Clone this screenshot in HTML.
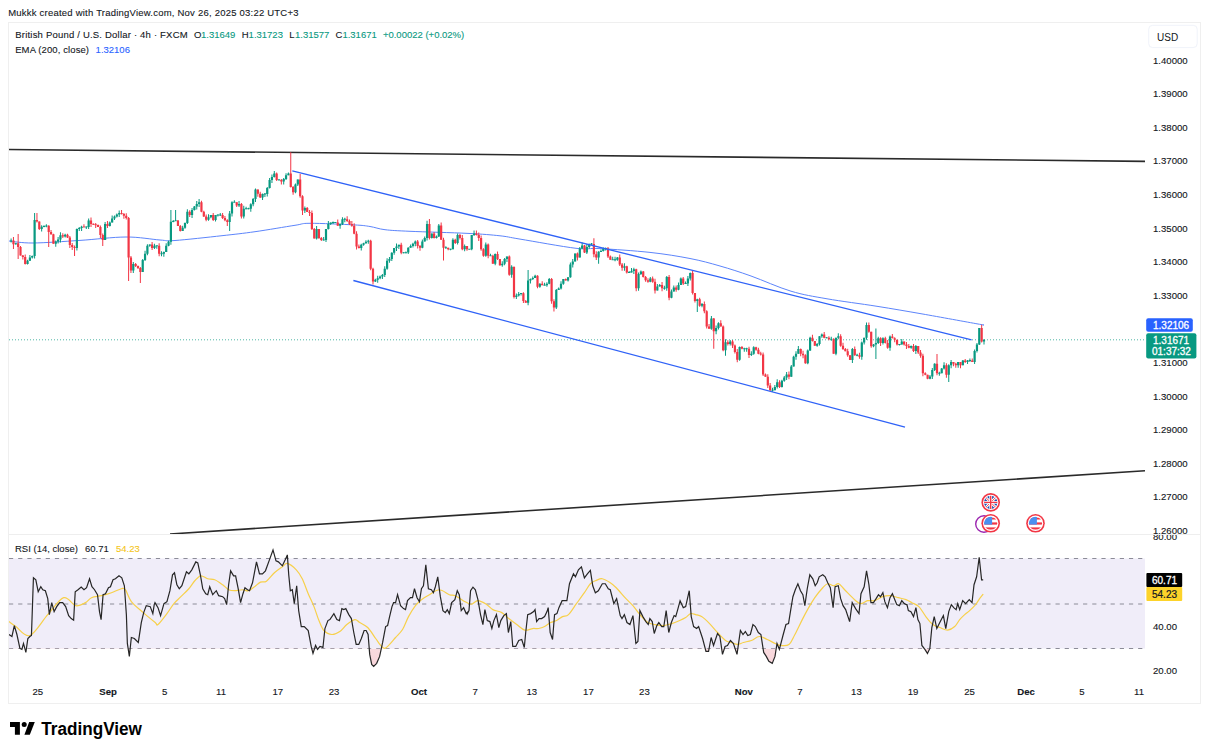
<!DOCTYPE html>
<html><head><meta charset="utf-8"><style>
html,body{margin:0;padding:0;background:#fff;width:1209px;height:754px;overflow:hidden}
svg{position:absolute;left:0;top:0}
text{font-family:"Liberation Sans",sans-serif;}
</style></head><body>
<svg width="1209" height="754" viewBox="0 0 1209 754">
<defs>
<clipPath id="cp1"><rect x="9" y="23" width="1136" height="511"/></clipPath>
<clipPath id="cp2"><rect x="9" y="535" width="1136" height="145"/></clipPath>
<clipPath id="cpos"><rect x="9" y="648.4" width="1136" height="40"/></clipPath>
<linearGradient id="pg" x1="0" y1="0" x2="0" y2="1"><stop offset="0" stop-color="#fdf4f6"/><stop offset="1" stop-color="#f8d5da"/></linearGradient>
<clipPath id="cpax2"><rect x="1145" y="535" width="55" height="145"/></clipPath>
</defs>
<rect x="0" y="0" width="1209" height="754" fill="#fff"/>
<text x="8.2" y="15.8" font-size="9.5" letter-spacing="0.22" fill="#131722" stroke="#131722" stroke-width="0.1">Mukkk created with TradingView.com, Nov 26, 2025 03:22 UTC+3</text>
<rect x="8.5" y="22.5" width="1192" height="681" fill="none" stroke="#efefef" stroke-width="1"/>
<line x1="9" y1="534.5" x2="1200" y2="534.5" stroke="#eeeeee" stroke-width="1"/>
<g clip-path="url(#cp1)">
<line x1="8" y1="149.5" x2="1145.5" y2="161.4" stroke="#2a2a2a" stroke-width="1.6"/>
<line x1="170" y1="534" x2="1145" y2="470.7" stroke="#2a2a2a" stroke-width="1.6"/>
<line x1="9" y1="339.8" x2="1145" y2="339.8" stroke="#089981" stroke-width="1" stroke-dasharray="1 2" opacity="0.7"/>
<path d="M9.00 241.00 C13.00 241.33 21.17 243.10 33.00 243.00 C44.83 242.90 64.50 241.40 80.00 240.40 C95.50 239.40 112.67 237.07 126.00 237.00 C139.33 236.93 151.83 239.42 160.00 240.00 C168.17 240.58 164.67 241.22 175.00 240.50 C185.33 239.78 208.67 237.17 222.00 235.70 C235.33 234.23 242.83 233.43 255.00 231.70 C267.17 229.97 285.83 226.70 295.00 225.30 C304.17 223.90 300.17 223.37 310.00 223.30 C319.83 223.23 344.00 224.37 354.00 224.90 C364.00 225.43 364.83 225.70 370.00 226.50 C375.17 227.30 378.33 228.90 385.00 229.70 C391.67 230.50 396.17 230.68 410.00 231.30 C423.83 231.92 453.00 232.65 468.00 233.40 C483.00 234.15 491.33 234.85 500.00 235.80 C508.67 236.75 507.33 237.02 520.00 239.10 C532.67 241.18 562.67 246.72 576.00 248.30 C589.33 249.88 587.67 247.92 600.00 248.60 C612.33 249.28 635.00 250.75 650.00 252.40 C665.00 254.05 678.33 256.23 690.00 258.50 C701.67 260.77 709.83 263.08 720.00 266.00 C730.17 268.92 739.17 271.80 751.00 276.00 C762.83 280.20 778.33 287.40 791.00 291.20 C803.67 295.00 812.67 296.28 827.00 298.80 C841.33 301.32 861.17 303.78 877.00 306.30 C892.83 308.82 905.17 310.95 922.00 313.90 C938.83 316.85 967.83 322.18 978.00 324.00 C988.17 325.82 982.17 324.67 983.00 324.80" fill="none" stroke="#5d85fb" stroke-width="1"/>
<path d="M10.60 238.60h1v4.00h-1zM15.30 242.66h1v2.14h-1zM27.05 259.80h1v4.70h-1zM29.40 255.10h1v5.70h-1zM31.75 255.50h1v3.10h-1zM34.10 213.00h1v45.50h-1zM41.15 225.30h1v6.20h-1zM43.50 225.30h1v2.00h-1zM45.85 224.30h1v3.00h-1zM55.25 240.54h1v6.26h-1zM57.60 237.10h1v6.44h-1zM59.95 232.30h1v10.30h-1zM64.65 233.80h1v3.60h-1zM76.40 228.50h1v22.00h-1zM78.75 226.90h1v4.10h-1zM81.10 225.80h1v5.10h-1zM85.80 226.50h1v2.50h-1zM88.15 218.50h1v10.50h-1zM104.60 222.00h1v18.00h-1zM109.30 221.50h1v5.00h-1zM111.65 215.50h1v7.00h-1zM114.00 215.50h1v4.50h-1zM116.35 213.44h1v4.06h-1zM118.70 210.50h1v6.44h-1zM132.80 262.00h1v10.94h-1zM142.20 259.00h1v13.00h-1zM144.55 250.70h1v10.30h-1zM146.90 244.20h1v11.00h-1zM149.25 244.40h1v2.30h-1zM153.95 243.70h1v5.30h-1zM156.30 245.70h1v3.00h-1zM161.00 251.20h1v5.00h-1zM163.35 251.50h1v5.20h-1zM165.70 243.20h1v8.80h-1zM168.05 240.70h1v5.50h-1zM170.40 210.00h1v34.70h-1zM172.75 220.11h1v2.19h-1zM175.10 210.00h1v11.11h-1zM182.15 225.80h1v5.20h-1zM184.50 222.50h1v6.30h-1zM186.85 209.30h1v14.70h-1zM191.55 208.00h1v10.00h-1zM193.90 205.94h1v4.56h-1zM196.25 201.00h1v8.44h-1zM198.60 199.00h1v8.00h-1zM208.00 214.25h1v6.55h-1zM210.35 215.00h1v3.25h-1zM215.05 215.00h1v6.50h-1zM217.40 214.50h1v2.00h-1zM219.75 213.00h1v3.00h-1zM229.15 210.90h1v20.10h-1zM231.50 201.30h1v15.10h-1zM233.85 200.30h1v2.00h-1zM238.55 201.00h1v6.00h-1zM243.25 205.70h1v12.90h-1zM245.60 206.70h1v2.50h-1zM247.95 207.70h1v1.50h-1zM250.30 203.34h1v8.36h-1zM252.65 198.00h1v8.34h-1zM255.00 188.60h1v13.40h-1zM262.05 193.50h1v6.50h-1zM264.40 193.00h1v4.00h-1zM266.75 187.00h1v9.50h-1zM269.10 178.00h1v10.50h-1zM271.45 174.60h1v8.40h-1zM273.80 171.10h1v6.50h-1zM278.50 179.00h1v1.00h-1zM283.20 178.00h1v6.60h-1zM285.55 173.20h1v6.80h-1zM287.90 172.60h1v2.60h-1zM294.95 183.59h1v9.71h-1zM297.30 179.50h1v6.59h-1zM304.35 206.50h1v6.60h-1zM316.10 226.00h1v13.40h-1zM323.15 237.00h1v3.50h-1zM325.50 229.00h1v13.00h-1zM327.85 221.00h1v8.50h-1zM330.20 222.50h1v2.50h-1zM332.55 221.50h1v2.50h-1zM334.90 222.50h1v0.50h-1zM339.60 223.50h1v5.20h-1zM341.95 217.30h1v7.70h-1zM344.30 217.80h1v4.50h-1zM360.75 243.80h1v6.70h-1zM363.10 242.70h1v3.10h-1zM365.45 240.24h1v3.46h-1zM367.80 239.80h1v3.94h-1zM374.85 278.80h1v3.10h-1zM377.20 275.70h1v7.10h-1zM379.55 275.45h1v3.75h-1zM381.90 274.00h1v4.95h-1zM384.25 266.20h1v10.80h-1zM386.60 258.20h1v11.50h-1zM388.95 257.00h1v5.70h-1zM391.30 252.30h1v8.70h-1zM393.65 248.00h1v6.80h-1zM396.00 243.50h1v7.50h-1zM398.35 244.80h1v4.20h-1zM403.05 252.30h1v1.00h-1zM405.40 251.50h1v1.80h-1zM407.75 247.20h1v6.80h-1zM410.10 244.50h1v3.20h-1zM412.45 242.70h1v4.80h-1zM414.80 240.40h1v5.80h-1zM421.85 239.40h1v8.80h-1zM424.20 236.50h1v4.90h-1zM426.55 220.70h1v19.80h-1zM431.25 233.40h1v5.10h-1zM435.95 235.60h1v2.90h-1zM438.30 224.00h1v13.10h-1zM445.35 246.20h1v2.50h-1zM450.05 248.80h1v1.50h-1zM452.40 238.30h1v11.00h-1zM457.10 233.50h1v11.00h-1zM464.15 244.50h1v6.80h-1zM468.85 249.30h1v0.00h-1zM471.20 235.00h1v15.30h-1zM473.55 230.40h1v5.60h-1zM485.30 242.60h1v14.10h-1zM490.00 253.70h1v2.00h-1zM494.70 253.50h1v11.70h-1zM501.75 261.20h1v5.60h-1zM504.10 257.90h1v7.30h-1zM506.45 256.50h1v5.40h-1zM511.15 265.30h1v12.50h-1zM515.85 293.50h1v5.50h-1zM518.20 292.00h1v4.50h-1zM520.55 293.20h1v2.30h-1zM527.60 270.00h1v35.30h-1zM529.95 278.50h1v5.00h-1zM532.30 276.50h1v3.50h-1zM534.65 274.70h1v3.30h-1zM539.35 283.20h1v4.60h-1zM544.05 282.80h1v2.50h-1zM546.40 282.20h1v4.60h-1zM548.75 277.90h1v6.30h-1zM555.80 289.00h1v20.00h-1zM558.15 287.40h1v2.60h-1zM560.50 281.20h1v8.20h-1zM562.85 278.90h1v5.80h-1zM567.55 277.30h1v4.20h-1zM569.90 262.60h1v15.20h-1zM572.25 258.90h1v8.70h-1zM574.60 253.40h1v8.00h-1zM579.30 247.10h1v10.30h-1zM581.65 242.50h1v6.60h-1zM586.35 244.00h1v10.10h-1zM588.70 243.40h1v5.10h-1zM591.05 242.90h1v2.00h-1zM598.10 251.30h1v12.50h-1zM600.45 249.50h1v2.30h-1zM602.80 247.60h1v3.90h-1zM605.15 247.60h1v3.00h-1zM612.20 256.80h1v3.00h-1zM614.55 256.80h1v4.50h-1zM616.90 256.90h1v3.90h-1zM623.95 263.20h1v7.50h-1zM628.65 271.00h1v2.00h-1zM631.00 268.00h1v4.50h-1zM633.35 267.80h1v6.20h-1zM638.05 272.40h1v18.30h-1zM640.40 270.50h1v4.40h-1zM649.80 277.10h1v5.20h-1zM656.85 284.10h1v6.50h-1zM659.20 284.00h1v2.60h-1zM663.90 285.70h1v4.00h-1zM666.25 276.00h1v14.70h-1zM670.95 289.40h1v8.80h-1zM673.30 285.40h1v6.00h-1zM678.00 282.50h1v7.80h-1zM680.35 277.60h1v7.40h-1zM685.05 281.40h1v2.50h-1zM687.40 276.10h1v9.80h-1zM689.75 272.50h1v8.10h-1zM696.80 298.80h1v13.20h-1zM701.50 303.10h1v4.10h-1zM710.90 315.90h1v13.90h-1zM715.60 325.50h1v8.70h-1zM717.95 322.20h1v7.30h-1zM725.00 339.30h1v16.50h-1zM729.70 340.00h1v5.40h-1zM739.10 346.60h1v14.20h-1zM743.80 347.70h1v4.00h-1zM746.15 347.70h1v4.00h-1zM750.85 351.20h1v4.80h-1zM753.20 346.30h1v8.40h-1zM772.00 387.80h1v4.00h-1zM774.35 385.10h1v5.20h-1zM776.70 379.30h1v9.30h-1zM781.40 379.70h1v7.90h-1zM783.75 376.00h1v5.70h-1zM786.10 371.90h1v8.10h-1zM790.80 364.90h1v11.80h-1zM793.15 355.80h1v10.60h-1zM795.50 351.20h1v8.60h-1zM797.85 345.90h1v7.80h-1zM807.25 349.50h1v14.70h-1zM809.60 336.70h1v14.30h-1zM816.65 343.10h1v3.60h-1zM819.00 336.20h1v9.40h-1zM821.35 333.60h1v4.10h-1zM826.05 337.20h1v1.00h-1zM830.75 336.80h1v4.00h-1zM835.45 337.70h1v17.50h-1zM837.80 333.20h1v6.00h-1zM851.90 347.90h1v15.10h-1zM856.60 353.80h1v2.50h-1zM861.30 341.50h1v18.30h-1zM863.65 337.70h1v6.80h-1zM866.00 322.50h1v17.20h-1zM873.05 344.10h1v3.10h-1zM875.40 328.60h1v30.30h-1zM877.75 336.70h1v7.30h-1zM882.45 337.20h1v7.30h-1zM889.50 335.60h1v15.10h-1zM898.90 344.60h1v1.00h-1zM901.25 338.90h1v5.70h-1zM910.65 345.50h1v3.20h-1zM915.35 345.00h1v8.90h-1zM929.45 374.90h1v4.40h-1zM931.80 368.00h1v10.90h-1zM934.15 363.20h1v7.80h-1zM938.85 371.70h1v4.00h-1zM941.20 367.90h1v5.30h-1zM943.55 362.30h1v7.10h-1zM948.25 364.30h1v17.70h-1zM950.60 360.10h1v8.20h-1zM957.65 362.10h1v5.70h-1zM962.35 360.00h1v5.30h-1zM967.05 360.00h1v4.10h-1zM969.40 358.50h1v3.50h-1zM974.10 349.40h1v14.70h-1zM976.45 343.10h1v9.30h-1zM978.80 327.90h1v17.20h-1zM983.50 339.30h1v5.10h-1z" fill="#089981"/>
<path d="M12.95 237.00h1v12.00h-1zM17.65 234.00h1v25.00h-1zM20.00 246.00h1v9.50h-1zM22.35 255.00h1v4.50h-1zM24.70 254.50h1v10.00h-1zM36.45 213.00h1v9.50h-1zM38.80 221.50h1v8.50h-1zM48.20 225.30h1v21.70h-1zM50.55 230.10h1v4.70h-1zM52.90 233.80h1v10.00h-1zM62.30 233.30h1v4.60h-1zM67.00 233.80h1v4.10h-1zM69.35 235.90h1v12.00h-1zM71.70 242.90h1v7.10h-1zM74.05 245.50h1v10.50h-1zM83.45 224.30h1v2.70h-1zM90.50 217.50h1v9.50h-1zM92.85 223.50h1v1.45h-1zM95.20 222.95h1v5.05h-1zM97.55 224.50h1v2.50h-1zM99.90 225.50h1v12.50h-1zM102.25 233.50h1v12.50h-1zM106.95 221.00h1v7.00h-1zM121.05 210.00h1v4.50h-1zM123.40 213.00h1v5.76h-1zM125.75 213.26h1v6.24h-1zM128.10 217.00h1v64.00h-1zM130.45 256.10h1v16.84h-1zM135.15 263.00h1v3.92h-1zM137.50 265.42h1v3.58h-1zM139.85 267.00h1v16.00h-1zM151.60 241.90h1v8.10h-1zM158.65 243.20h1v13.00h-1zM177.45 220.00h1v6.00h-1zM179.80 225.00h1v6.50h-1zM189.20 210.30h1v6.70h-1zM200.95 200.80h1v11.50h-1zM203.30 210.80h1v6.30h-1zM205.65 214.60h1v6.70h-1zM212.70 213.00h1v8.00h-1zM222.10 213.00h1v6.00h-1zM224.45 216.00h1v5.25h-1zM226.80 219.25h1v6.75h-1zM236.20 202.30h1v4.70h-1zM240.90 203.00h1v15.60h-1zM257.35 189.60h1v7.07h-1zM259.70 191.67h1v6.33h-1zM276.15 172.60h1v8.40h-1zM280.85 179.00h1v5.60h-1zM290.25 152.20h1v35.30h-1zM292.60 186.00h1v8.80h-1zM299.65 174.00h1v23.80h-1zM302.00 195.30h1v19.70h-1zM306.70 207.00h1v5.00h-1zM309.05 210.00h1v6.00h-1zM311.40 210.50h1v19.50h-1zM313.75 228.00h1v10.40h-1zM318.45 229.00h1v10.00h-1zM320.80 237.00h1v4.00h-1zM337.25 219.50h1v6.20h-1zM346.65 216.30h1v5.70h-1zM349.00 219.50h1v5.50h-1zM351.35 221.00h1v5.70h-1zM353.70 223.20h1v11.00h-1zM356.05 231.20h1v18.20h-1zM358.40 244.40h1v4.10h-1zM370.15 239.80h1v30.40h-1zM372.50 267.70h1v16.70h-1zM400.70 242.80h1v11.50h-1zM417.15 239.90h1v8.60h-1zM419.50 245.00h1v5.70h-1zM428.90 219.00h1v20.50h-1zM433.60 231.90h1v6.60h-1zM440.65 222.50h1v17.30h-1zM443.00 237.80h1v22.70h-1zM447.70 247.70h1v2.60h-1zM454.75 238.80h1v5.20h-1zM459.45 234.00h1v5.50h-1zM461.80 235.00h1v15.30h-1zM466.50 246.00h1v4.80h-1zM475.90 230.40h1v5.10h-1zM478.25 232.50h1v8.50h-1zM480.60 235.50h1v15.30h-1zM482.95 248.30h1v8.40h-1zM487.65 243.60h1v14.60h-1zM492.35 254.70h1v9.00h-1zM497.05 251.50h1v8.40h-1zM499.40 258.90h1v6.90h-1zM508.80 255.50h1v20.30h-1zM513.50 266.80h1v31.70h-1zM522.90 292.20h1v10.80h-1zM525.25 300.00h1v2.80h-1zM537.00 275.20h1v13.10h-1zM541.70 281.20h1v4.10h-1zM551.10 277.90h1v25.80h-1zM553.45 299.20h1v12.30h-1zM565.20 278.40h1v2.10h-1zM576.95 252.40h1v8.00h-1zM584.00 245.00h1v8.10h-1zM593.40 238.30h1v18.90h-1zM595.75 251.20h1v8.70h-1zM607.50 247.10h1v11.00h-1zM609.85 255.60h1v4.20h-1zM619.25 254.40h1v11.70h-1zM621.60 263.10h1v7.60h-1zM626.30 265.70h1v7.80h-1zM635.70 268.80h1v22.40h-1zM642.75 271.00h1v6.50h-1zM645.10 276.00h1v5.70h-1zM647.45 278.20h1v4.60h-1zM652.15 276.60h1v6.20h-1zM654.50 278.80h1v14.80h-1zM661.55 282.00h1v9.20h-1zM668.60 275.00h1v25.20h-1zM675.65 285.40h1v6.40h-1zM682.70 277.10h1v7.80h-1zM692.10 270.50h1v24.00h-1zM694.45 293.00h1v9.50h-1zM699.15 297.80h1v8.90h-1zM703.85 301.60h1v11.70h-1zM706.20 310.30h1v18.10h-1zM708.55 323.90h1v4.90h-1zM713.25 317.90h1v30.80h-1zM720.30 320.20h1v6.20h-1zM722.65 325.40h1v25.90h-1zM727.35 340.30h1v5.10h-1zM732.05 340.00h1v8.00h-1zM734.40 344.50h1v8.90h-1zM736.75 348.90h1v13.40h-1zM741.45 346.10h1v3.10h-1zM748.50 346.70h1v11.30h-1zM755.55 346.80h1v3.90h-1zM757.90 347.70h1v6.50h-1zM760.25 351.70h1v3.80h-1zM762.60 352.50h1v23.40h-1zM764.95 373.40h1v3.30h-1zM767.30 374.20h1v13.80h-1zM769.65 383.00h1v8.30h-1zM779.05 380.30h1v7.80h-1zM788.45 371.40h1v7.80h-1zM800.20 348.40h1v7.80h-1zM802.55 350.70h1v7.60h-1zM804.90 354.30h1v9.40h-1zM811.95 334.70h1v6.80h-1zM814.30 341.00h1v4.70h-1zM823.70 332.10h1v6.10h-1zM828.40 336.20h1v4.10h-1zM833.10 338.30h1v15.40h-1zM840.15 334.20h1v12.50h-1zM842.50 342.70h1v7.20h-1zM844.85 347.90h1v3.40h-1zM847.20 348.80h1v8.00h-1zM849.55 355.30h1v4.70h-1zM854.25 346.40h1v9.40h-1zM858.95 352.80h1v6.00h-1zM868.35 322.50h1v10.30h-1zM870.70 331.80h1v15.90h-1zM880.10 337.20h1v8.80h-1zM884.80 336.70h1v6.80h-1zM887.15 340.00h1v8.70h-1zM891.85 334.10h1v4.10h-1zM894.20 337.20h1v5.10h-1zM896.55 339.80h1v5.80h-1zM903.60 341.40h1v4.20h-1zM905.95 342.10h1v6.90h-1zM908.30 344.00h1v4.20h-1zM913.00 344.00h1v7.90h-1zM917.70 346.00h1v8.00h-1zM920.05 350.00h1v7.70h-1zM922.40 353.70h1v22.50h-1zM924.75 372.20h1v3.10h-1zM927.10 374.80h1v4.50h-1zM936.50 354.00h1v21.20h-1zM945.90 363.30h1v14.50h-1zM952.95 362.10h1v4.10h-1zM955.30 362.70h1v5.10h-1zM960.00 362.10h1v6.20h-1zM964.70 359.00h1v4.10h-1zM971.75 358.50h1v3.60h-1zM981.15 324.70h1v17.70h-1z" fill="#f23645"/>
<path d="M10.00 240.60h2.2v1.00h-2.2zM14.70 243.16h2.2v1.14h-2.2zM26.45 260.80h2.2v3.20h-2.2zM28.80 257.60h2.2v3.20h-2.2zM31.15 256.00h2.2v1.60h-2.2zM33.50 220.00h2.2v36.00h-2.2zM40.55 226.80h2.2v2.20h-2.2zM42.90 226.05h2.2v1.00h-2.2zM45.25 225.55h2.2v1.00h-2.2zM54.65 241.54h2.2v2.26h-2.2zM57.00 239.60h2.2v1.94h-2.2zM59.35 235.30h2.2v4.30h-2.2zM64.05 234.80h2.2v1.60h-2.2zM75.80 229.00h2.2v19.00h-2.2zM78.15 227.90h2.2v1.10h-2.2zM80.50 226.80h2.2v1.10h-2.2zM85.20 226.50h2.2v1.00h-2.2zM87.55 220.50h2.2v6.50h-2.2zM104.00 224.00h2.2v16.00h-2.2zM108.70 222.50h2.2v3.50h-2.2zM111.05 218.50h2.2v4.00h-2.2zM113.40 216.50h2.2v2.00h-2.2zM115.75 214.44h2.2v2.06h-2.2zM118.10 213.00h2.2v1.44h-2.2zM132.20 264.00h2.2v6.44h-2.2zM141.60 260.00h2.2v12.00h-2.2zM143.95 253.70h2.2v6.30h-2.2zM146.30 245.70h2.2v8.00h-2.2zM148.65 244.40h2.2v1.30h-2.2zM153.35 245.70h2.2v2.30h-2.2zM155.70 245.20h2.2v1.00h-2.2zM160.40 253.20h2.2v1.00h-2.2zM162.75 252.00h2.2v1.70h-2.2zM165.10 245.70h2.2v6.30h-2.2zM167.45 241.70h2.2v4.00h-2.2zM169.80 221.80h2.2v19.90h-2.2zM172.15 220.96h2.2v1.00h-2.2zM174.50 220.31h2.2v1.00h-2.2zM181.55 227.80h2.2v3.20h-2.2zM183.90 223.00h2.2v4.80h-2.2zM186.25 211.80h2.2v11.20h-2.2zM190.95 210.00h2.2v5.00h-2.2zM193.30 206.44h2.2v3.56h-2.2zM195.65 204.00h2.2v2.44h-2.2zM198.00 202.30h2.2v1.70h-2.2zM207.40 217.25h2.2v2.55h-2.2zM209.75 215.00h2.2v2.25h-2.2zM214.45 215.00h2.2v5.00h-2.2zM216.80 214.50h2.2v1.00h-2.2zM219.15 214.50h2.2v1.00h-2.2zM228.55 213.40h2.2v8.60h-2.2zM230.90 202.30h2.2v11.10h-2.2zM233.25 201.80h2.2v1.00h-2.2zM237.95 204.00h2.2v1.50h-2.2zM242.65 208.70h2.2v7.90h-2.2zM245.00 208.20h2.2v1.00h-2.2zM247.35 208.20h2.2v1.00h-2.2zM249.70 204.34h2.2v4.36h-2.2zM252.05 199.00h2.2v5.34h-2.2zM254.40 189.60h2.2v9.40h-2.2zM261.45 194.00h2.2v3.50h-2.2zM263.80 193.50h2.2v1.00h-2.2zM266.15 188.00h2.2v6.00h-2.2zM268.50 180.00h2.2v8.00h-2.2zM270.85 177.10h2.2v2.90h-2.2zM273.20 173.60h2.2v3.50h-2.2zM277.90 179.50h2.2v1.00h-2.2zM282.60 179.00h2.2v2.60h-2.2zM284.95 175.20h2.2v3.80h-2.2zM287.30 173.60h2.2v1.60h-2.2zM294.35 184.59h2.2v7.71h-2.2zM296.70 179.50h2.2v5.09h-2.2zM303.75 208.00h2.2v2.60h-2.2zM315.50 229.00h2.2v9.40h-2.2zM322.55 239.50h2.2v1.00h-2.2zM324.90 229.00h2.2v11.00h-2.2zM327.25 224.00h2.2v5.00h-2.2zM329.60 222.50h2.2v1.50h-2.2zM331.95 222.00h2.2v1.00h-2.2zM334.30 222.00h2.2v1.00h-2.2zM339.00 224.00h2.2v1.70h-2.2zM341.35 219.30h2.2v4.70h-2.2zM343.70 218.80h2.2v1.00h-2.2zM360.15 244.80h2.2v3.20h-2.2zM362.50 243.20h2.2v1.60h-2.2zM364.85 241.74h2.2v1.46h-2.2zM367.20 240.77h2.2v1.00h-2.2zM374.25 279.80h2.2v1.60h-2.2zM376.60 278.20h2.2v1.60h-2.2zM378.95 276.45h2.2v1.75h-2.2zM381.30 275.00h2.2v1.45h-2.2zM383.65 268.70h2.2v6.30h-2.2zM386.00 260.70h2.2v8.00h-2.2zM388.35 259.00h2.2v1.70h-2.2zM390.70 252.80h2.2v6.20h-2.2zM393.05 248.00h2.2v4.80h-2.2zM395.40 246.50h2.2v1.50h-2.2zM397.75 244.80h2.2v1.70h-2.2zM402.45 252.30h2.2v1.00h-2.2zM404.80 252.15h2.2v1.00h-2.2zM407.15 247.70h2.2v4.80h-2.2zM409.50 246.00h2.2v1.70h-2.2zM411.85 243.70h2.2v2.30h-2.2zM414.20 241.40h2.2v2.30h-2.2zM421.25 241.40h2.2v6.30h-2.2zM423.60 238.00h2.2v3.40h-2.2zM425.95 223.90h2.2v14.10h-2.2zM430.65 233.40h2.2v4.60h-2.2zM435.35 236.60h2.2v1.40h-2.2zM437.70 225.50h2.2v11.10h-2.2zM444.75 247.20h2.2v1.00h-2.2zM449.45 248.80h2.2v1.00h-2.2zM451.80 239.80h2.2v9.50h-2.2zM456.50 235.00h2.2v8.00h-2.2zM463.55 246.00h2.2v3.30h-2.2zM468.25 248.80h2.2v1.00h-2.2zM470.60 235.00h2.2v14.30h-2.2zM472.95 233.40h2.2v1.60h-2.2zM484.70 244.60h2.2v11.10h-2.2zM489.40 255.20h2.2v1.00h-2.2zM494.10 254.00h2.2v9.70h-2.2zM501.15 263.70h2.2v1.60h-2.2zM503.50 258.90h2.2v4.80h-2.2zM505.85 256.50h2.2v2.40h-2.2zM510.55 266.80h2.2v8.00h-2.2zM515.25 295.50h2.2v1.50h-2.2zM517.60 294.00h2.2v1.50h-2.2zM519.95 293.10h2.2v1.00h-2.2zM527.00 280.50h2.2v22.30h-2.2zM529.35 279.00h2.2v1.50h-2.2zM531.70 278.00h2.2v1.00h-2.2zM534.05 275.70h2.2v2.30h-2.2zM538.75 283.70h2.2v3.10h-2.2zM543.45 284.80h2.2v1.00h-2.2zM545.80 283.70h2.2v1.60h-2.2zM548.15 278.90h2.2v4.80h-2.2zM555.20 290.00h2.2v17.50h-2.2zM557.55 288.40h2.2v1.60h-2.2zM559.90 283.70h2.2v4.70h-2.2zM562.25 278.90h2.2v4.80h-2.2zM566.95 277.30h2.2v3.20h-2.2zM569.30 264.60h2.2v12.70h-2.2zM571.65 261.40h2.2v3.20h-2.2zM574.00 253.40h2.2v8.00h-2.2zM578.70 248.60h2.2v8.80h-2.2zM581.05 245.50h2.2v3.10h-2.2zM585.75 247.00h2.2v5.60h-2.2zM588.10 243.90h2.2v3.10h-2.2zM590.45 243.40h2.2v1.00h-2.2zM597.50 251.80h2.2v5.60h-2.2zM599.85 250.90h2.2v1.00h-2.2zM602.20 248.60h2.2v2.40h-2.2zM604.55 248.10h2.2v1.00h-2.2zM611.60 259.30h2.2v1.00h-2.2zM613.95 259.30h2.2v1.00h-2.2zM616.30 257.40h2.2v2.40h-2.2zM623.35 266.20h2.2v1.50h-2.2zM628.05 272.00h2.2v1.00h-2.2zM630.40 271.00h2.2v1.50h-2.2zM632.75 269.30h2.2v1.70h-2.2zM637.45 273.90h2.2v14.30h-2.2zM639.80 271.50h2.2v2.40h-2.2zM649.20 278.60h2.2v3.20h-2.2zM656.25 286.60h2.2v4.00h-2.2zM658.60 285.00h2.2v1.60h-2.2zM663.30 287.70h2.2v1.00h-2.2zM665.65 277.00h2.2v11.20h-2.2zM670.35 291.40h2.2v6.30h-2.2zM672.70 287.40h2.2v4.00h-2.2zM677.40 285.00h2.2v4.80h-2.2zM679.75 278.60h2.2v6.40h-2.2zM684.45 282.90h2.2v1.00h-2.2zM686.80 278.60h2.2v4.80h-2.2zM689.15 273.00h2.2v5.60h-2.2zM696.20 299.30h2.2v1.70h-2.2zM700.90 304.10h2.2v1.60h-2.2zM710.30 318.40h2.2v10.40h-2.2zM715.00 328.00h2.2v3.20h-2.2zM717.35 323.20h2.2v4.80h-2.2zM724.40 342.30h2.2v8.00h-2.2zM729.10 341.50h2.2v2.40h-2.2zM738.50 347.10h2.2v12.70h-2.2zM743.20 348.20h2.2v1.00h-2.2zM745.55 348.20h2.2v1.00h-2.2zM750.25 353.70h2.2v1.30h-2.2zM752.60 347.30h2.2v6.40h-2.2zM771.40 389.80h2.2v1.00h-2.2zM773.75 387.10h2.2v3.20h-2.2zM776.10 382.30h2.2v4.80h-2.2zM780.80 380.70h2.2v6.40h-2.2zM783.15 377.50h2.2v3.20h-2.2zM785.50 374.40h2.2v3.10h-2.2zM790.20 366.40h2.2v10.30h-2.2zM792.55 356.80h2.2v9.60h-2.2zM794.90 353.70h2.2v3.10h-2.2zM797.25 348.90h2.2v4.80h-2.2zM806.65 350.50h2.2v12.70h-2.2zM809.00 337.70h2.2v12.80h-2.2zM816.05 344.10h2.2v1.60h-2.2zM818.40 336.20h2.2v7.90h-2.2zM820.75 334.60h2.2v1.60h-2.2zM825.45 337.20h2.2v1.00h-2.2zM830.15 338.80h2.2v1.00h-2.2zM834.85 337.70h2.2v16.00h-2.2zM837.20 336.20h2.2v1.50h-2.2zM851.30 348.90h2.2v11.10h-2.2zM856.00 354.80h2.2v1.00h-2.2zM860.70 342.50h2.2v14.30h-2.2zM863.05 337.70h2.2v4.80h-2.2zM865.40 325.00h2.2v12.70h-2.2zM872.45 344.60h2.2v1.60h-2.2zM874.80 343.00h2.2v1.60h-2.2zM877.15 338.20h2.2v4.80h-2.2zM881.85 338.20h2.2v4.80h-2.2zM888.90 336.60h2.2v11.10h-2.2zM898.30 344.10h2.2v1.00h-2.2zM900.65 341.40h2.2v3.20h-2.2zM910.05 346.00h2.2v1.70h-2.2zM914.75 346.00h2.2v4.90h-2.2zM928.85 376.40h2.2v2.40h-2.2zM931.20 370.00h2.2v6.40h-2.2zM933.55 363.70h2.2v6.30h-2.2zM938.25 372.70h2.2v1.00h-2.2zM940.60 368.40h2.2v4.80h-2.2zM942.95 365.30h2.2v3.10h-2.2zM947.65 365.30h2.2v9.50h-2.2zM950.00 362.10h2.2v3.20h-2.2zM957.05 362.10h2.2v3.20h-2.2zM961.75 360.50h2.2v4.80h-2.2zM966.45 360.50h2.2v1.60h-2.2zM968.80 360.00h2.2v1.00h-2.2zM973.50 350.90h2.2v11.20h-2.2zM975.85 344.60h2.2v6.30h-2.2zM978.20 327.90h2.2v16.70h-2.2zM982.90 339.80h2.2v1.60h-2.2z" fill="#089981"/>
<path d="M12.35 240.60h2.2v3.70h-2.2zM17.05 243.16h2.2v3.84h-2.2zM19.40 247.00h2.2v8.50h-2.2zM21.75 255.50h2.2v1.50h-2.2zM24.10 257.00h2.2v7.00h-2.2zM35.85 220.00h2.2v1.50h-2.2zM38.20 221.50h2.2v7.50h-2.2zM47.60 225.80h2.2v6.30h-2.2zM49.95 232.10h2.2v2.20h-2.2zM52.30 234.30h2.2v9.50h-2.2zM61.70 235.30h2.2v1.10h-2.2zM66.40 234.80h2.2v2.60h-2.2zM68.75 237.40h2.2v7.50h-2.2zM71.10 244.90h2.2v2.10h-2.2zM73.45 247.00h2.2v1.00h-2.2zM82.85 226.40h2.2v1.00h-2.2zM89.90 220.50h2.2v3.50h-2.2zM92.25 223.73h2.2v1.00h-2.2zM94.60 224.23h2.2v1.00h-2.2zM96.95 225.00h2.2v2.00h-2.2zM99.30 227.00h2.2v8.00h-2.2zM101.65 235.00h2.2v5.00h-2.2zM106.35 224.00h2.2v2.00h-2.2zM120.45 213.00h2.2v1.00h-2.2zM122.80 214.00h2.2v1.76h-2.2zM125.15 215.76h2.2v2.24h-2.2zM127.50 218.00h2.2v39.60h-2.2zM129.85 257.60h2.2v12.84h-2.2zM134.55 264.00h2.2v1.92h-2.2zM136.90 265.92h2.2v2.08h-2.2zM139.25 268.00h2.2v4.00h-2.2zM151.00 244.40h2.2v3.60h-2.2zM158.05 245.70h2.2v8.00h-2.2zM176.85 220.50h2.2v5.50h-2.2zM179.20 226.00h2.2v5.00h-2.2zM188.60 211.80h2.2v3.20h-2.2zM200.35 202.30h2.2v9.50h-2.2zM202.70 211.80h2.2v4.80h-2.2zM205.05 216.60h2.2v3.20h-2.2zM212.10 215.00h2.2v5.00h-2.2zM221.50 215.00h2.2v3.00h-2.2zM223.85 218.00h2.2v2.25h-2.2zM226.20 220.25h2.2v1.75h-2.2zM235.60 202.30h2.2v3.20h-2.2zM240.30 204.00h2.2v12.60h-2.2zM256.75 189.60h2.2v4.07h-2.2zM259.10 193.67h2.2v3.83h-2.2zM275.55 173.60h2.2v6.40h-2.2zM280.25 180.00h2.2v1.60h-2.2zM289.65 173.60h2.2v13.40h-2.2zM292.00 187.00h2.2v5.30h-2.2zM299.05 179.50h2.2v16.80h-2.2zM301.40 196.30h2.2v14.30h-2.2zM306.10 208.00h2.2v4.00h-2.2zM308.45 212.00h2.2v1.00h-2.2zM310.80 213.00h2.2v16.00h-2.2zM313.15 229.00h2.2v9.40h-2.2zM317.85 229.00h2.2v9.00h-2.2zM320.20 238.00h2.2v2.00h-2.2zM336.65 222.50h2.2v3.20h-2.2zM346.05 219.30h2.2v1.70h-2.2zM348.40 221.00h2.2v3.00h-2.2zM350.75 224.00h2.2v1.70h-2.2zM353.10 225.70h2.2v8.00h-2.2zM355.45 233.70h2.2v12.70h-2.2zM357.80 246.40h2.2v1.60h-2.2zM369.55 240.80h2.2v27.90h-2.2zM371.90 268.70h2.2v12.70h-2.2zM400.10 244.80h2.2v8.00h-2.2zM416.55 241.40h2.2v4.60h-2.2zM418.90 246.00h2.2v1.70h-2.2zM428.30 223.90h2.2v14.10h-2.2zM433.00 233.40h2.2v4.60h-2.2zM440.05 225.50h2.2v14.30h-2.2zM442.40 239.80h2.2v7.90h-2.2zM447.10 247.70h2.2v1.60h-2.2zM454.15 239.80h2.2v3.20h-2.2zM458.85 235.00h2.2v3.00h-2.2zM461.20 238.00h2.2v11.30h-2.2zM465.90 246.00h2.2v3.30h-2.2zM475.30 233.40h2.2v1.60h-2.2zM477.65 235.00h2.2v3.00h-2.2zM480.00 238.00h2.2v11.30h-2.2zM482.35 249.30h2.2v6.40h-2.2zM487.05 244.60h2.2v11.10h-2.2zM491.75 255.70h2.2v8.00h-2.2zM496.45 254.00h2.2v4.90h-2.2zM498.80 258.90h2.2v6.40h-2.2zM508.20 256.50h2.2v18.30h-2.2zM512.90 266.80h2.2v30.20h-2.2zM522.30 293.20h2.2v7.80h-2.2zM524.65 301.00h2.2v1.80h-2.2zM536.40 275.70h2.2v11.10h-2.2zM541.10 283.70h2.2v1.60h-2.2zM550.50 278.90h2.2v22.30h-2.2zM552.85 301.20h2.2v6.30h-2.2zM564.60 278.90h2.2v1.60h-2.2zM576.35 253.40h2.2v4.00h-2.2zM583.40 245.50h2.2v7.10h-2.2zM592.80 243.90h2.2v10.30h-2.2zM595.15 254.20h2.2v3.20h-2.2zM606.90 248.60h2.2v8.00h-2.2zM609.25 256.60h2.2v3.20h-2.2zM618.65 257.40h2.2v7.20h-2.2zM621.00 264.60h2.2v3.10h-2.2zM625.70 266.20h2.2v6.30h-2.2zM635.10 269.30h2.2v18.90h-2.2zM642.15 271.50h2.2v5.50h-2.2zM644.50 277.00h2.2v3.20h-2.2zM646.85 280.20h2.2v1.60h-2.2zM651.55 278.60h2.2v3.20h-2.2zM653.90 281.80h2.2v8.80h-2.2zM660.95 285.00h2.2v3.20h-2.2zM668.00 277.00h2.2v20.70h-2.2zM675.05 287.40h2.2v2.40h-2.2zM682.10 278.60h2.2v4.80h-2.2zM691.50 273.00h2.2v20.00h-2.2zM693.85 293.00h2.2v8.00h-2.2zM698.55 299.30h2.2v6.40h-2.2zM703.25 304.10h2.2v7.20h-2.2zM705.60 311.30h2.2v15.10h-2.2zM707.95 326.40h2.2v2.40h-2.2zM712.65 318.40h2.2v12.80h-2.2zM719.70 323.20h2.2v3.20h-2.2zM722.05 326.40h2.2v23.90h-2.2zM726.75 342.30h2.2v1.60h-2.2zM731.45 341.50h2.2v4.00h-2.2zM733.80 345.50h2.2v6.40h-2.2zM736.15 351.90h2.2v7.90h-2.2zM740.85 347.10h2.2v1.60h-2.2zM747.90 348.70h2.2v6.30h-2.2zM754.95 347.30h2.2v2.40h-2.2zM757.30 349.70h2.2v4.00h-2.2zM759.65 353.60h2.2v1.00h-2.2zM762.00 354.50h2.2v19.90h-2.2zM764.35 374.40h2.2v2.30h-2.2zM766.70 376.70h2.2v8.80h-2.2zM769.05 385.50h2.2v4.80h-2.2zM778.45 382.30h2.2v4.80h-2.2zM787.85 374.40h2.2v2.30h-2.2zM799.60 348.90h2.2v4.80h-2.2zM801.95 353.70h2.2v1.60h-2.2zM804.30 355.30h2.2v7.90h-2.2zM811.35 337.70h2.2v3.30h-2.2zM813.70 341.00h2.2v4.70h-2.2zM823.10 334.60h2.2v3.10h-2.2zM827.80 337.70h2.2v1.60h-2.2zM832.50 339.30h2.2v14.40h-2.2zM839.55 336.20h2.2v9.50h-2.2zM841.90 345.70h2.2v3.20h-2.2zM844.25 348.90h2.2v2.40h-2.2zM846.60 351.30h2.2v4.00h-2.2zM848.95 355.30h2.2v4.70h-2.2zM853.65 348.90h2.2v6.40h-2.2zM858.35 355.30h2.2v1.50h-2.2zM867.75 325.00h2.2v6.80h-2.2zM870.10 331.80h2.2v14.40h-2.2zM879.50 338.20h2.2v4.80h-2.2zM884.20 338.20h2.2v4.80h-2.2zM886.55 343.00h2.2v4.70h-2.2zM891.25 336.60h2.2v1.60h-2.2zM893.60 338.20h2.2v1.60h-2.2zM895.95 339.80h2.2v4.80h-2.2zM903.00 341.40h2.2v3.20h-2.2zM905.35 344.60h2.2v1.40h-2.2zM907.70 346.00h2.2v1.70h-2.2zM912.40 346.00h2.2v4.90h-2.2zM917.10 346.00h2.2v6.50h-2.2zM919.45 352.50h2.2v3.20h-2.2zM921.80 355.70h2.2v17.50h-2.2zM924.15 373.20h2.2v1.60h-2.2zM926.50 374.80h2.2v4.00h-2.2zM935.90 363.70h2.2v9.50h-2.2zM945.30 365.30h2.2v9.50h-2.2zM952.35 362.10h2.2v1.60h-2.2zM954.70 363.70h2.2v1.60h-2.2zM959.40 362.10h2.2v3.20h-2.2zM964.10 360.50h2.2v1.60h-2.2zM971.15 360.50h2.2v1.60h-2.2zM980.55 327.90h2.2v13.50h-2.2z" fill="#f23645"/>
<line x1="292.3" y1="170.8" x2="971.6" y2="339.8" stroke="#2f62f7" stroke-width="1.3"/>
<line x1="353.4" y1="280.5" x2="905" y2="427.2" stroke="#2f62f7" stroke-width="1.3"/>
</g>
<g font-size="9.6" fill="#131722" stroke="#131722" stroke-width="0.12"><text x="1153" y="63.6">1.40000</text><text x="1153" y="97.2">1.39000</text><text x="1153" y="130.8">1.38000</text><text x="1153" y="164.4">1.37000</text><text x="1153" y="198.0">1.36000</text><text x="1153" y="231.6">1.35000</text><text x="1153" y="265.2">1.34000</text><text x="1153" y="298.8">1.33000</text><text x="1153" y="366.0">1.31000</text><text x="1153" y="399.6">1.30000</text><text x="1153" y="433.2">1.29000</text><text x="1153" y="466.8">1.28000</text><text x="1153" y="500.4">1.27000</text><text x="1153" y="534.0">1.26000</text></g>
<rect x="1148.7" y="25.3" width="48.5" height="22.3" rx="4" fill="#fff" stroke="#f0f3fa"/>
<text x="1157" y="41" font-size="10" fill="#131722">USD</text>
<!-- legend -->
<g font-size="9.5" fill="#131722" stroke-width="0.1">
<text x="15.3" y="38.4" letter-spacing="0.2" stroke="#131722">British Pound / U.S. Dollar · 4h · FXCM</text>
<text x="194" y="38.4" stroke="#131722">O</text><text x="201" y="38.4" fill="#089981" stroke="#089981">1.31649</text>
<text x="241.8" y="38.4" stroke="#131722">H</text><text x="248.6" y="38.4" fill="#089981" stroke="#089981">1.31723</text>
<text x="289.3" y="38.4" stroke="#131722">L</text><text x="295" y="38.4" fill="#089981" stroke="#089981">1.31577</text>
<text x="335.4" y="38.4" stroke="#131722">C</text><text x="342.4" y="38.4" fill="#089981" stroke="#089981">1.31671</text>
<text x="382.9" y="38.4" fill="#089981" stroke="#089981">+0.00022 (+0.02%)</text>
<text x="15.2" y="52.6" letter-spacing="0.1" stroke="#131722">EMA (200, close)</text><text x="95.6" y="52.6" fill="#2962ff" stroke="#2962ff">1.32106</text>
</g>
<!-- price badges -->
<rect x="1146.2" y="318.3" width="46.6" height="13.5" rx="2" fill="#2962ff"/>
<text x="1153" y="328.6" font-size="10" fill="#fff" stroke="#fff" stroke-width="0.3">1.32106</text>
<rect x="1146.2" y="333.2" width="50.2" height="25.4" rx="2" fill="#089981"/>
<text x="1153" y="344.2" font-size="10" fill="#fff" stroke="#fff" stroke-width="0.3">1.31671</text>
<text x="1152" y="355.3" font-size="10" fill="#fff" stroke="#fff" stroke-width="0.3">01:37:32</text>
<!-- event icons -->
<defs>
<clipPath id="fc"><circle cx="0" cy="0" r="6.6"/></clipPath>
<g id="us"><circle r="9.3" fill="#f23645"/><circle r="7.7" fill="#fff"/>
<g clip-path="url(#fc)"><rect x="-7" y="-7" width="14" height="14" fill="#fff"/>
<rect x="-7" y="-5.7" width="14" height="1.9" fill="#f23645"/><rect x="-7" y="-0.9" width="14" height="2.2" fill="#f23645"/><rect x="-7" y="4.1" width="14" height="2.2" fill="#f23645"/>
<rect x="-7" y="-7" width="8.4" height="8.3" fill="#4a8ff0"/></g></g>
<g id="uk"><circle r="9.3" fill="#f23645"/><circle r="7.7" fill="#fff"/>
<g clip-path="url(#fc)"><rect x="-7" y="-7" width="14" height="14" fill="#1e4fb0"/>
<path d="M-7 -7L7 7M7 -7L-7 7" stroke="#fff" stroke-width="2.6"/>
<path d="M-7 -7L7 7M7 -7L-7 7" stroke="#f23645" stroke-width="0.9"/>
<path d="M0 -7V7M-7 0H7" stroke="#fff" stroke-width="2.8"/>
<path d="M0 -7V7M-7 0H7" stroke="#f23645" stroke-width="1.4"/></g></g>
</defs>
<circle cx="984" cy="524" r="8.3" fill="none" stroke="#9c27b0" stroke-width="1.4"/>
<use href="#uk" x="990.7" y="502.4"/>
<use href="#us" x="990.7" y="523.3"/>
<use href="#us" x="1035.5" y="523.3"/>
<!-- RSI pane -->
<g clip-path="url(#cp2)">
<rect x="9" y="558.5" width="1136" height="90" fill="#f0edf9"/>
<g stroke="#8c8c98" stroke-width="1" stroke-dasharray="4.2 4.98">
<line x1="9" y1="558.5" x2="1145" y2="558.5"/>
<line x1="9" y1="604" x2="1145" y2="604"/>
<line x1="9" y1="648.5" x2="1145" y2="648.5"/>
</g>
<path d="M8.96 634.50 L11.94 636.49 L14.33 625.55 L16.92 634.50 L19.90 648.43 L21.89 649.43 L23.48 643.46 L25.87 652.41 L27.86 638.48 L29.85 636.49 L31.44 635.50 L33.43 577.79 L35.82 579.78 L38.21 591.72 L40.80 586.74 L42.79 589.73 L45.37 590.72 L47.76 598.68 L49.35 614.60 L51.74 602.66 L54.13 611.62 L56.72 606.64 L59.70 602.66 L62.69 602.66 L65.67 606.64 L68.66 615.60 L71.24 618.58 L73.63 620.17 L75.22 591.72 L78.01 589.73 L81.19 587.14 L83.98 589.73 L86.57 587.74 L89.55 578.78 L91.94 586.74 L94.53 589.73 L97.51 594.70 L99.50 611.62 L101.09 619.58 L103.08 594.70 L105.47 593.71 L108.46 587.74 L110.45 586.74 L113.03 579.78 L115.42 578.78 L119.00 575.80 L121.79 577.79 L124.38 585.75 L126.37 614.60 L127.36 643.46 L129.35 656.39 L131.34 637.49 L134.33 638.48 L138.31 642.46 L141.29 622.56 L143.68 612.61 L146.27 605.65 L150.25 606.64 L152.84 613.61 L154.23 604.65 L155.00 602.66 L157.99 607.64 L160.57 615.60 L163.96 603.66 L166.94 601.67 L169.93 590.72 L172.51 574.80 L174.50 572.81 L176.89 584.75 L179.28 588.73 L181.87 585.75 L186.44 571.82 L188.83 573.81 L191.82 569.83 L195.80 561.87 L197.79 562.86 L200.37 574.80 L202.76 588.73 L205.75 593.71 L207.74 594.70 L209.73 586.74 L212.71 594.70 L216.29 590.72 L218.68 595.70 L222.66 596.69 L224.65 598.68 L226.64 604.65 L228.63 584.75 L230.62 570.82 L233.61 575.80 L235.60 575.80 L238.18 588.73 L240.57 602.66 L242.96 593.71 L244.95 587.74 L247.54 589.73 L249.53 590.72 L252.51 582.76 L256.49 561.87 L259.48 573.81 L262.46 573.81 L265.45 570.82 L269.43 559.88 L273.01 549.93 L276.00 560.87 L278.38 561.87 L282.36 565.85 L284.75 560.87 L287.34 554.90 L288.73 574.80 L290.32 590.72 L292.31 589.73 L294.30 603.66 L296.69 585.75 L298.68 610.62 L301.27 626.54 L304.25 626.54 L308.23 630.52 L311.22 646.44 L312.21 650.42 L312.99 653.41 L315.57 645.45 L317.56 649.43 L319.95 646.44 L322.94 647.44 L324.93 628.53 L327.91 620.57 L329.90 619.58 L333.88 613.61 L336.87 619.58 L339.45 620.57 L341.84 608.63 L343.83 609.63 L345.82 608.63 L348.81 614.60 L351.39 618.58 L353.78 632.51 L356.17 644.45 L358.76 644.45 L361.34 638.48 L364.13 630.52 L366.12 630.52 L368.11 634.50 L369.70 654.40 L371.69 664.35 L373.68 666.34 L376.67 663.36 L379.65 656.39 L382.64 642.46 L385.62 626.54 L387.61 625.55 L389.60 616.59 L391.99 606.64 L393.58 602.66 L395.57 602.66 L397.56 594.70 L400.55 605.65 L403.53 608.63 L405.52 609.63 L407.51 600.67 L410.50 597.69 L412.49 597.69 L414.48 588.73 L417.06 597.69 L419.45 601.67 L421.44 588.73 L423.43 585.75 L425.82 564.85 L428.41 588.73 L431.39 589.73 L433.38 592.71 L435.37 586.74 L437.76 576.79 L440.35 596.69 L442.94 610.62 L445.32 612.61 L447.31 609.63 L449.30 613.61 L451.69 602.66 L454.88 599.68 L457.26 590.72 L459.25 594.70 L461.24 610.62 L463.63 607.64 L466.22 613.61 L467.21 612.61 L467.39 613.61 L468.98 610.62 L470.57 590.72 L472.96 587.14 L475.35 589.73 L477.94 599.68 L480.52 614.60 L482.91 624.55 L484.90 609.63 L487.29 620.57 L489.88 621.57 L491.87 628.53 L493.86 620.57 L496.44 614.60 L498.83 627.54 L500.82 620.57 L503.81 615.60 L506.39 613.61 L508.38 632.51 L510.77 621.57 L512.76 646.44 L515.75 646.44 L518.73 640.47 L521.72 639.48 L524.30 647.44 L525.70 632.51 L527.69 614.60 L530.67 613.61 L533.66 611.62 L535.05 609.63 L536.64 621.57 L539.03 618.58 L541.62 618.58 L544.60 616.59 L546.99 611.62 L548.18 607.64 L550.17 632.51 L552.56 639.48 L554.55 614.60 L556.94 613.61 L558.93 607.64 L562.11 600.67 L566.89 600.67 L569.48 583.76 L573.46 573.81 L575.45 576.79 L578.43 569.83 L581.42 566.84 L584.40 577.79 L587.39 573.81 L590.37 570.42 L592.76 585.75 L595.35 592.71 L598.33 590.72 L602.31 583.76 L605.30 583.76 L608.28 588.73 L610.27 589.73 L613.86 603.66 L616.64 598.68 L620.22 615.60 L621.99 618.58 L624.38 614.60 L626.97 622.56 L629.95 624.55 L632.94 615.60 L634.33 628.53 L635.92 643.46 L637.91 641.47 L639.90 610.62 L642.89 616.59 L645.87 621.57 L648.26 624.55 L649.85 618.58 L652.24 621.57 L654.23 633.51 L656.82 625.55 L658.81 622.56 L661.79 626.54 L663.78 626.54 L666.17 610.62 L668.76 632.51 L671.34 622.56 L674.13 615.60 L675.72 616.59 L677.71 609.63 L680.10 600.67 L683.28 607.64 L685.67 606.64 L689.25 590.72 L691.24 616.59 L693.63 626.54 L696.62 628.53 L698.61 626.54 L700.60 632.51 L702.59 638.48 L705.97 651.42 L708.56 651.42 L711.14 637.49 L713.53 645.45 L717.51 633.51 L719.90 636.49 L722.49 654.40 L725.07 646.44 L727.46 645.45 L730.45 640.47 L733.43 643.46 L737.01 654.40 L740.40 630.52 L742.99 634.50 L745.37 631.52 L747.76 635.50 L750.35 634.50 L752.94 624.55 L755.32 626.54 L758.31 632.51 L760.90 634.50 L763.68 652.41 L766.27 656.39 L768.86 661.37 L772.24 663.36 L774.23 658.38 L775.00 656.39 L776.99 643.46 L779.38 649.43 L782.96 635.50 L785.95 624.55 L788.53 623.56 L790.92 608.63 L792.91 596.69 L795.30 589.73 L797.89 583.76 L800.47 590.72 L802.86 594.70 L804.85 605.65 L807.24 588.73 L809.83 574.80 L812.81 578.78 L815.20 585.75 L817.19 582.76 L819.18 576.79 L822.76 574.80 L825.15 576.79 L827.74 582.76 L830.32 587.74 L833.11 607.64 L835.10 586.74 L838.28 585.75 L840.67 598.68 L843.06 605.65 L845.65 609.63 L849.63 621.57 L852.21 602.66 L855.60 608.63 L858.98 613.61 L860.97 593.71 L864.15 586.74 L866.54 570.82 L868.93 584.75 L870.92 602.66 L873.51 602.66 L876.09 598.68 L878.48 594.70 L880.47 596.69 L882.86 592.71 L884.85 601.67 L887.44 607.64 L890.02 597.69 L892.41 593.71 L894.80 599.68 L896.79 604.65 L899.38 605.65 L901.77 600.67 L904.35 603.66 L906.34 604.65 L906.97 604.65 L908.36 610.62 L910.95 611.62 L913.53 616.59 L915.92 607.64 L917.91 619.58 L919.90 623.56 L921.89 645.45 L924.88 649.43 L927.46 653.41 L929.85 648.43 L931.84 627.54 L934.23 616.59 L936.82 628.53 L939.80 622.56 L943.38 615.60 L945.77 628.53 L948.76 611.62 L951.34 604.65 L953.73 607.64 L956.12 609.63 L957.71 603.66 L959.70 609.63 L962.69 600.67 L965.67 603.66 L969.25 599.68 L972.04 602.66 L974.03 584.75 L976.62 576.79 L979.20 557.29 L981.59 579.78 L983.18 579.78 L984 648.4 L9 648.4 Z" fill="url(#pg)" clip-path="url(#cpos)"/>
<path d="M8.96 621.57 C10.12 622.40 12.44 624.22 15.92 626.54 C19.40 628.86 24.54 637.49 29.85 635.50 C35.16 633.51 42.12 620.90 47.76 614.60 C53.40 608.30 59.04 599.18 63.68 597.69 C68.33 596.19 71.97 604.82 75.62 605.65 C79.27 606.48 82.92 603.99 85.57 602.66 C88.23 601.33 88.89 598.85 91.54 597.69 C94.20 596.53 98.18 596.53 101.49 595.70 C104.81 594.87 108.13 593.87 111.44 592.71 C114.76 591.55 119.07 589.23 121.39 588.73 C123.71 588.23 123.71 587.57 125.37 589.73 C127.03 591.88 128.36 597.85 131.34 601.67 C134.33 605.48 139.30 609.13 143.28 612.61 C147.26 616.09 152.77 620.57 155.22 622.56 C157.67 624.55 156.03 626.04 157.99 624.55 C159.94 623.06 164.29 617.09 166.94 613.61 C169.59 610.12 171.58 606.48 173.91 603.66 C176.23 600.84 178.38 599.18 180.87 596.69 C183.36 594.20 186.51 591.38 188.83 588.73 C191.15 586.08 192.81 582.93 194.80 580.77 C196.79 578.62 198.62 576.13 200.77 575.80 C202.93 575.46 205.41 578.12 207.74 578.78 C210.06 579.44 212.21 578.78 214.70 579.78 C217.19 580.77 220.34 583.09 222.66 584.75 C224.98 586.41 226.64 588.73 228.63 589.73 C230.62 590.72 232.28 590.72 234.60 590.72 C236.92 590.72 240.24 589.73 242.56 589.73 C244.88 589.73 246.54 591.22 248.53 590.72 C250.52 590.22 252.51 588.17 254.50 586.74 C256.49 585.32 258.48 583.09 260.47 582.16 C262.46 581.24 264.12 582.73 266.44 581.17 C268.76 579.61 271.75 575.20 274.40 572.81 C277.06 570.42 280.21 568.40 282.36 566.84 C284.52 565.28 285.02 562.96 287.34 563.46 C289.66 563.96 293.81 567.27 296.29 569.83 C298.78 572.38 300.27 574.80 302.26 578.78 C304.25 582.76 306.28 589.06 308.23 593.71 C310.19 598.35 312.19 602.16 313.98 606.64 C315.77 611.12 317.30 616.59 318.96 620.57 C320.61 624.55 321.77 628.20 323.93 630.52 C326.09 632.84 329.24 634.34 331.89 634.50 C334.54 634.67 337.36 633.18 339.85 631.52 C342.34 629.86 344.33 626.54 346.82 624.55 C349.30 622.56 352.62 619.91 354.78 619.58 C356.93 619.25 357.60 621.24 359.75 622.56 C361.91 623.89 365.06 624.88 367.71 627.54 C370.36 630.19 373.52 635.50 375.67 638.48 C377.83 641.47 379.15 643.79 380.65 645.45 C382.14 647.11 383.13 648.60 384.63 648.43 C386.12 648.27 387.78 646.28 389.60 644.45 C391.43 642.63 393.42 639.98 395.57 637.49 C397.73 635.00 400.38 633.01 402.54 629.53 C404.69 626.04 406.35 620.57 408.51 616.59 C410.66 612.61 413.32 608.47 415.47 605.65 C417.63 602.83 419.12 601.50 421.44 599.68 C423.76 597.85 426.42 596.36 429.40 594.70 C432.39 593.04 436.04 589.73 439.35 589.73 C442.67 589.73 446.65 593.71 449.30 594.70 C451.96 595.70 452.95 594.70 455.27 595.70 C457.60 596.69 460.62 599.25 463.23 600.67 C465.85 602.10 468.52 604.25 470.97 604.25 C473.42 604.25 475.28 600.61 477.94 600.67 C480.59 600.74 484.40 603.16 486.89 604.65 C489.38 606.14 490.37 608.30 492.86 609.63 C495.35 610.95 499.16 611.12 501.82 612.61 C504.47 614.10 506.29 616.59 508.78 618.58 C511.27 620.57 514.09 622.63 516.74 624.55 C519.39 626.48 522.05 629.46 524.70 630.12 C527.35 630.79 530.34 628.80 532.66 628.53 C534.98 628.27 536.64 628.86 538.63 628.53 C540.62 628.20 542.61 627.54 544.60 626.54 C546.59 625.55 548.58 623.56 550.57 622.56 C552.56 621.57 554.55 621.57 556.54 620.57 C558.53 619.58 560.52 617.59 562.51 616.59 C564.50 615.60 566.16 616.76 568.48 614.60 C570.80 612.45 573.79 607.31 576.44 603.66 C579.10 600.01 582.08 596.03 584.40 592.71 C586.72 589.39 588.38 585.81 590.37 583.76 C592.36 581.70 594.35 581.20 596.34 580.37 C598.33 579.54 599.99 578.38 602.31 578.78 C604.64 579.18 607.95 581.27 610.27 582.76 C612.60 584.25 613.63 585.08 616.24 587.74 C618.86 590.39 623.19 595.70 625.97 598.68 C628.75 601.67 630.61 602.99 632.94 605.65 C635.26 608.30 637.41 611.78 639.90 614.60 C642.39 617.42 645.37 620.90 647.86 622.56 C650.35 624.22 652.17 624.05 654.83 624.55 C657.48 625.05 660.96 625.71 663.78 625.55 C666.60 625.38 669.09 624.39 671.74 623.56 C674.39 622.73 677.38 621.57 679.70 620.57 C682.02 619.58 683.85 618.75 685.67 617.59 C687.50 616.43 688.99 614.10 690.65 613.61 C692.31 613.11 693.80 614.10 695.62 614.60 C697.45 615.10 699.27 615.10 701.59 616.59 C703.91 618.08 706.90 620.90 709.55 623.56 C712.21 626.21 714.86 629.69 717.51 632.51 C720.17 635.33 723.15 638.81 725.47 640.47 C727.79 642.13 729.45 641.80 731.44 642.46 C733.43 643.13 735.42 644.45 737.41 644.45 C739.40 644.45 741.06 643.13 743.38 642.46 C745.70 641.80 748.69 641.47 751.34 640.47 C754.00 639.48 756.65 636.66 759.30 636.49 C761.96 636.33 764.61 638.32 767.26 639.48 C769.92 640.64 772.94 642.46 775.22 643.46 C777.51 644.45 778.69 645.28 780.97 645.45 C783.25 645.61 786.61 646.28 788.93 644.45 C791.25 642.63 792.25 639.48 794.90 634.50 C797.55 629.53 801.53 620.74 804.85 614.60 C808.17 608.47 811.82 602.16 814.80 597.69 C817.79 593.21 820.61 590.06 822.76 587.74 C824.92 585.41 825.91 584.09 827.74 583.76 C829.56 583.42 831.88 585.75 833.71 585.75 C835.53 585.75 836.86 583.09 838.68 583.76 C840.51 584.42 842.00 587.07 844.65 589.73 C847.31 592.38 851.95 597.35 854.60 599.68 C857.26 602.00 858.42 603.49 860.57 603.66 C862.73 603.82 865.22 601.17 867.54 600.67 C869.86 600.17 872.01 601.33 874.50 600.67 C876.99 600.01 879.81 597.52 882.46 596.69 C885.12 595.86 887.77 595.53 890.42 595.70 C893.08 595.86 895.79 597.02 898.38 597.69 C900.97 598.35 903.71 598.85 905.97 599.68 C908.23 600.51 909.78 601.50 911.94 602.66 C914.10 603.82 916.58 604.32 918.91 606.64 C921.23 608.96 923.55 613.61 925.87 616.59 C928.19 619.58 930.51 622.73 932.84 624.55 C935.16 626.38 937.31 626.61 939.80 627.54 C942.29 628.47 945.27 630.29 947.76 630.12 C950.25 629.96 952.74 628.30 954.73 626.54 C956.72 624.78 958.04 621.57 959.70 619.58 C961.36 617.59 963.02 616.09 964.68 614.60 C966.33 613.11 967.83 612.28 969.65 610.62 C971.48 608.96 973.96 606.64 975.62 604.65 C977.28 602.66 978.34 600.44 979.60 598.68 C980.86 596.92 982.59 594.87 983.18 594.10" fill="none" stroke="#f7d04a" stroke-width="1.2"/>
<path d="M8.96 634.50 L11.94 636.49 L14.33 625.55 L16.92 634.50 L19.90 648.43 L21.89 649.43 L23.48 643.46 L25.87 652.41 L27.86 638.48 L29.85 636.49 L31.44 635.50 L33.43 577.79 L35.82 579.78 L38.21 591.72 L40.80 586.74 L42.79 589.73 L45.37 590.72 L47.76 598.68 L49.35 614.60 L51.74 602.66 L54.13 611.62 L56.72 606.64 L59.70 602.66 L62.69 602.66 L65.67 606.64 L68.66 615.60 L71.24 618.58 L73.63 620.17 L75.22 591.72 L78.01 589.73 L81.19 587.14 L83.98 589.73 L86.57 587.74 L89.55 578.78 L91.94 586.74 L94.53 589.73 L97.51 594.70 L99.50 611.62 L101.09 619.58 L103.08 594.70 L105.47 593.71 L108.46 587.74 L110.45 586.74 L113.03 579.78 L115.42 578.78 L119.00 575.80 L121.79 577.79 L124.38 585.75 L126.37 614.60 L127.36 643.46 L129.35 656.39 L131.34 637.49 L134.33 638.48 L138.31 642.46 L141.29 622.56 L143.68 612.61 L146.27 605.65 L150.25 606.64 L152.84 613.61 L154.23 604.65 L155.00 602.66 L157.99 607.64 L160.57 615.60 L163.96 603.66 L166.94 601.67 L169.93 590.72 L172.51 574.80 L174.50 572.81 L176.89 584.75 L179.28 588.73 L181.87 585.75 L186.44 571.82 L188.83 573.81 L191.82 569.83 L195.80 561.87 L197.79 562.86 L200.37 574.80 L202.76 588.73 L205.75 593.71 L207.74 594.70 L209.73 586.74 L212.71 594.70 L216.29 590.72 L218.68 595.70 L222.66 596.69 L224.65 598.68 L226.64 604.65 L228.63 584.75 L230.62 570.82 L233.61 575.80 L235.60 575.80 L238.18 588.73 L240.57 602.66 L242.96 593.71 L244.95 587.74 L247.54 589.73 L249.53 590.72 L252.51 582.76 L256.49 561.87 L259.48 573.81 L262.46 573.81 L265.45 570.82 L269.43 559.88 L273.01 549.93 L276.00 560.87 L278.38 561.87 L282.36 565.85 L284.75 560.87 L287.34 554.90 L288.73 574.80 L290.32 590.72 L292.31 589.73 L294.30 603.66 L296.69 585.75 L298.68 610.62 L301.27 626.54 L304.25 626.54 L308.23 630.52 L311.22 646.44 L312.21 650.42 L312.99 653.41 L315.57 645.45 L317.56 649.43 L319.95 646.44 L322.94 647.44 L324.93 628.53 L327.91 620.57 L329.90 619.58 L333.88 613.61 L336.87 619.58 L339.45 620.57 L341.84 608.63 L343.83 609.63 L345.82 608.63 L348.81 614.60 L351.39 618.58 L353.78 632.51 L356.17 644.45 L358.76 644.45 L361.34 638.48 L364.13 630.52 L366.12 630.52 L368.11 634.50 L369.70 654.40 L371.69 664.35 L373.68 666.34 L376.67 663.36 L379.65 656.39 L382.64 642.46 L385.62 626.54 L387.61 625.55 L389.60 616.59 L391.99 606.64 L393.58 602.66 L395.57 602.66 L397.56 594.70 L400.55 605.65 L403.53 608.63 L405.52 609.63 L407.51 600.67 L410.50 597.69 L412.49 597.69 L414.48 588.73 L417.06 597.69 L419.45 601.67 L421.44 588.73 L423.43 585.75 L425.82 564.85 L428.41 588.73 L431.39 589.73 L433.38 592.71 L435.37 586.74 L437.76 576.79 L440.35 596.69 L442.94 610.62 L445.32 612.61 L447.31 609.63 L449.30 613.61 L451.69 602.66 L454.88 599.68 L457.26 590.72 L459.25 594.70 L461.24 610.62 L463.63 607.64 L466.22 613.61 L467.21 612.61 L467.39 613.61 L468.98 610.62 L470.57 590.72 L472.96 587.14 L475.35 589.73 L477.94 599.68 L480.52 614.60 L482.91 624.55 L484.90 609.63 L487.29 620.57 L489.88 621.57 L491.87 628.53 L493.86 620.57 L496.44 614.60 L498.83 627.54 L500.82 620.57 L503.81 615.60 L506.39 613.61 L508.38 632.51 L510.77 621.57 L512.76 646.44 L515.75 646.44 L518.73 640.47 L521.72 639.48 L524.30 647.44 L525.70 632.51 L527.69 614.60 L530.67 613.61 L533.66 611.62 L535.05 609.63 L536.64 621.57 L539.03 618.58 L541.62 618.58 L544.60 616.59 L546.99 611.62 L548.18 607.64 L550.17 632.51 L552.56 639.48 L554.55 614.60 L556.94 613.61 L558.93 607.64 L562.11 600.67 L566.89 600.67 L569.48 583.76 L573.46 573.81 L575.45 576.79 L578.43 569.83 L581.42 566.84 L584.40 577.79 L587.39 573.81 L590.37 570.42 L592.76 585.75 L595.35 592.71 L598.33 590.72 L602.31 583.76 L605.30 583.76 L608.28 588.73 L610.27 589.73 L613.86 603.66 L616.64 598.68 L620.22 615.60 L621.99 618.58 L624.38 614.60 L626.97 622.56 L629.95 624.55 L632.94 615.60 L634.33 628.53 L635.92 643.46 L637.91 641.47 L639.90 610.62 L642.89 616.59 L645.87 621.57 L648.26 624.55 L649.85 618.58 L652.24 621.57 L654.23 633.51 L656.82 625.55 L658.81 622.56 L661.79 626.54 L663.78 626.54 L666.17 610.62 L668.76 632.51 L671.34 622.56 L674.13 615.60 L675.72 616.59 L677.71 609.63 L680.10 600.67 L683.28 607.64 L685.67 606.64 L689.25 590.72 L691.24 616.59 L693.63 626.54 L696.62 628.53 L698.61 626.54 L700.60 632.51 L702.59 638.48 L705.97 651.42 L708.56 651.42 L711.14 637.49 L713.53 645.45 L717.51 633.51 L719.90 636.49 L722.49 654.40 L725.07 646.44 L727.46 645.45 L730.45 640.47 L733.43 643.46 L737.01 654.40 L740.40 630.52 L742.99 634.50 L745.37 631.52 L747.76 635.50 L750.35 634.50 L752.94 624.55 L755.32 626.54 L758.31 632.51 L760.90 634.50 L763.68 652.41 L766.27 656.39 L768.86 661.37 L772.24 663.36 L774.23 658.38 L775.00 656.39 L776.99 643.46 L779.38 649.43 L782.96 635.50 L785.95 624.55 L788.53 623.56 L790.92 608.63 L792.91 596.69 L795.30 589.73 L797.89 583.76 L800.47 590.72 L802.86 594.70 L804.85 605.65 L807.24 588.73 L809.83 574.80 L812.81 578.78 L815.20 585.75 L817.19 582.76 L819.18 576.79 L822.76 574.80 L825.15 576.79 L827.74 582.76 L830.32 587.74 L833.11 607.64 L835.10 586.74 L838.28 585.75 L840.67 598.68 L843.06 605.65 L845.65 609.63 L849.63 621.57 L852.21 602.66 L855.60 608.63 L858.98 613.61 L860.97 593.71 L864.15 586.74 L866.54 570.82 L868.93 584.75 L870.92 602.66 L873.51 602.66 L876.09 598.68 L878.48 594.70 L880.47 596.69 L882.86 592.71 L884.85 601.67 L887.44 607.64 L890.02 597.69 L892.41 593.71 L894.80 599.68 L896.79 604.65 L899.38 605.65 L901.77 600.67 L904.35 603.66 L906.34 604.65 L906.97 604.65 L908.36 610.62 L910.95 611.62 L913.53 616.59 L915.92 607.64 L917.91 619.58 L919.90 623.56 L921.89 645.45 L924.88 649.43 L927.46 653.41 L929.85 648.43 L931.84 627.54 L934.23 616.59 L936.82 628.53 L939.80 622.56 L943.38 615.60 L945.77 628.53 L948.76 611.62 L951.34 604.65 L953.73 607.64 L956.12 609.63 L957.71 603.66 L959.70 609.63 L962.69 600.67 L965.67 603.66 L969.25 599.68 L972.04 602.66 L974.03 584.75 L976.62 576.79 L979.20 557.29 L981.59 579.78 L983.18 579.78" fill="none" stroke="#262626" stroke-width="1.2"/>
</g>
<g font-size="9.5" fill="#131722" stroke-width="0.1"><text x="15" y="551.5" stroke="#131722">RSI (14, close)</text><text x="85" y="551.5" stroke="#131722">60.71</text><text x="116" y="551.5" fill="#f5c518" stroke="#f5c518">54.23</text></g>
<g font-size="9.6" fill="#131722" stroke="#131722" stroke-width="0.12">
<g clip-path="url(#cpax2)"><text x="1153" y="540">80.00</text></g>
<text x="1153" y="629.5">40.00</text>
<text x="1153" y="673.5">20.00</text>
</g>
<rect x="1146.4" y="573" width="35.8" height="13.9" rx="1" fill="#000"/>
<text x="1152" y="583.6" font-size="10" fill="#fff" stroke="#fff" stroke-width="0.3">60.71</text>
<rect x="1146.4" y="586.9" width="35.8" height="14" rx="1" fill="#fdd32a"/>
<text x="1152" y="597.5" font-size="10" fill="#131722" stroke="#131722" stroke-width="0.2">54.23</text>
<!-- time axis -->
<g font-size="9.6" fill="#131722" stroke="#131722" stroke-width="0.12"><text x="37.8" y="695.2" text-anchor="middle">25</text><text x="108.1" y="695.2" text-anchor="middle" font-weight="bold">Sep</text><text x="164.7" y="695.2" text-anchor="middle">5</text><text x="221" y="695.2" text-anchor="middle">11</text><text x="277.8" y="695.2" text-anchor="middle">17</text><text x="334.1" y="695.2" text-anchor="middle">23</text><text x="419" y="695.2" text-anchor="middle" font-weight="bold">Oct</text><text x="475.2" y="695.2" text-anchor="middle">7</text><text x="531.8" y="695.2" text-anchor="middle">13</text><text x="588.4" y="695.2" text-anchor="middle">17</text><text x="644.4" y="695.2" text-anchor="middle">23</text><text x="743.8" y="695.2" text-anchor="middle" font-weight="bold">Nov</text><text x="799.8" y="695.2" text-anchor="middle">7</text><text x="856.4" y="695.2" text-anchor="middle">13</text><text x="913" y="695.2" text-anchor="middle">19</text><text x="969.6" y="695.2" text-anchor="middle">25</text><text x="1026.1" y="695.2" text-anchor="middle" font-weight="bold">Dec</text><text x="1082" y="695.2" text-anchor="middle">5</text><text x="1139" y="695.2" text-anchor="middle">11</text></g>
<!-- logo -->
<g fill="#000">
<path d="M10 722.1h9.9v12.6h-5v-7.8h-4.9z"/>
<circle cx="24.2" cy="724.6" r="2.5"/>
<path d="M29.2 722.1h5.6l-5 12.6h-5.4z"/>
</g>
<text x="41.3" y="735" font-size="18" font-weight="bold" fill="#000" textLength="100.6" lengthAdjust="spacingAndGlyphs">TradingView</text>
</svg>
</body></html>
